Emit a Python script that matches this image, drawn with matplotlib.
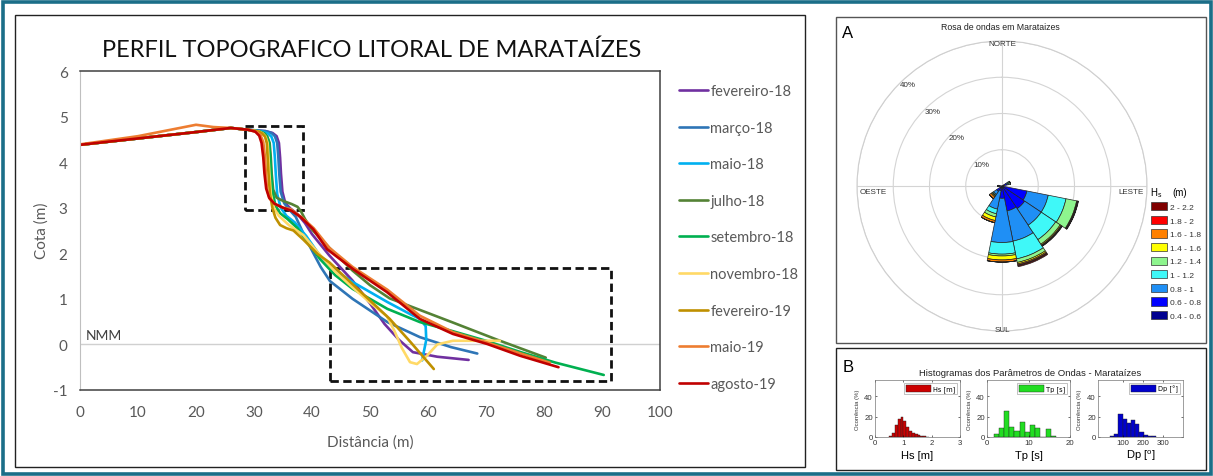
import numpy as np
import matplotlib.pyplot as plt
from matplotlib.patches import Rectangle, Patch

plt.rcParams["axes.unicode_minus"] = False

W, H = 1213, 477

# ---------------- profile data (Distância m, Cota m) ----------------
fev18_x = [0, 10, 20, 26, 29, 32, 33.2, 33.9, 34.3, 34.5, 34.65, 34.9, 35.4, 36.3, 37.5, 38.8, 40, 43, 47, 50, 52.5, 55, 57.4, 61.6, 67]
fev18_y = [4.38, 4.52, 4.66, 4.75, 4.71, 4.68, 4.64, 4.57, 4.42, 4.1, 3.75, 3.35, 3.1, 2.98, 2.86, 2.66, 2.42, 1.95, 1.4, 0.9, 0.45, 0.1, -0.17, -0.27, -0.34]

mar18_x = [0, 10, 20, 26, 29, 32, 33.0, 33.6, 34.0, 34.2, 34.35, 34.6, 35.2, 36, 37.2, 39, 41.5, 43.1, 47, 53, 58.6, 64, 68.5]
mar18_y = [4.38, 4.52, 4.66, 4.75, 4.71, 4.68, 4.64, 4.57, 4.42, 4.1, 3.75, 3.35, 3.1, 2.97, 2.8, 2.3, 1.7, 1.39, 1.0, 0.49, 0.16, -0.06, -0.2]

mai18_x = [0, 10, 20, 26, 29, 31.5, 32.4, 33.0, 33.4, 33.6, 33.75, 34.0, 34.6, 35.6, 37, 39, 41.4, 44, 47, 53, 57, 58.6, 59.6, 59.7, 59.3, 59.0]
mai18_y = [4.38, 4.52, 4.66, 4.75, 4.71, 4.67, 4.63, 4.56, 4.42, 4.1, 3.75, 3.3, 3.0, 2.82, 2.68, 2.38, 1.94, 1.62, 1.37, 0.93, 0.66, 0.56, 0.4, 0.1, -0.15, -0.35]

jul18_x = [0, 10, 20, 26, 29, 31, 31.8, 32.3, 32.7, 32.9, 33.05, 33.3, 33.9, 35, 36.5, 37.5, 38.1, 38.8, 40, 43, 47, 50, 53.4, 64.3, 72, 80.3]
jul18_y = [4.38, 4.52, 4.66, 4.75, 4.71, 4.67, 4.63, 4.56, 4.42, 4.1, 3.75, 3.4, 3.22, 3.15, 3.08, 3.02, 2.92, 2.75, 2.52, 2.12, 1.62, 1.3, 1.01, 0.48, 0.1, -0.29]

set18_x = [0, 10, 20, 26, 29, 31, 31.7, 32.2, 32.6, 32.8, 32.95, 33.2, 33.7, 34.5, 35.8, 37.5, 39.5, 41.4, 44, 47, 53, 58.6, 64.3, 70, 76, 82, 90.3]
set18_y = [4.38, 4.52, 4.66, 4.75, 4.71, 4.67, 4.63, 4.56, 4.42, 4.1, 3.75, 3.35, 3.05, 2.88, 2.75, 2.55, 2.2, 1.87, 1.52, 1.22, 0.78, 0.49, 0.29, 0.08, -0.17, -0.4, -0.67]

nov18_x = [0, 10, 20, 26, 29, 30.9, 31.5, 32.0, 32.35, 32.5, 32.65, 32.9, 33.4, 34.3, 36, 38.5, 41, 44, 47, 50, 52.9, 54.2, 55.5, 56.9, 58.1, 59.8, 61.6, 64.3, 72.4]
nov18_y = [4.38, 4.52, 4.66, 4.75, 4.71, 4.67, 4.63, 4.56, 4.42, 4.1, 3.75, 3.3, 3.0, 2.82, 2.62, 2.4, 2.02, 1.6, 1.25, 0.92, 0.62, 0.3, -0.08, -0.39, -0.43, -0.25, 0.0, 0.08, 0.08]

fev19_x = [0, 10, 20, 26, 29, 30.8, 31.4, 31.9, 32.2, 32.35, 32.5, 32.75, 33.2, 33.7, 34.5, 35.6, 36.8, 38.5, 41, 43, 47, 53.4, 57, 61]
fev19_y = [4.38, 4.52, 4.66, 4.75, 4.71, 4.67, 4.63, 4.56, 4.42, 4.1, 3.75, 3.3, 2.98, 2.78, 2.62, 2.55, 2.5, 2.3, 1.98, 1.8, 1.32, 0.56, 0.05, -0.54]

mai19_x = [0, 10, 18, 20, 23, 26, 29, 30.5, 31.1, 31.6, 31.9, 32.05, 32.25, 32.7, 33.6, 35, 36.3, 38.3, 40.3, 43, 47, 53, 58.6, 64.3, 70, 76, 81]
mai19_y = [4.39, 4.57, 4.77, 4.82, 4.77, 4.75, 4.71, 4.66, 4.6, 4.44, 4.1, 3.75, 3.4, 3.2, 3.08, 3.0, 2.97, 2.78, 2.55, 2.12, 1.7, 1.2, 0.63, 0.27, 0.05, -0.2, -0.4]

ago19_x = [0, 10, 20, 26, 29, 30.2, 30.9, 31.3, 31.6, 31.8, 32.1, 32.6, 33.5, 35, 36.5, 38, 40.2, 42.6, 47.1, 52.9, 58.6, 64.3, 70.2, 75.9, 82.5]
ago19_y = [4.38, 4.52, 4.66, 4.75, 4.71, 4.67, 4.58, 4.42, 4.1, 3.75, 3.42, 3.22, 3.09, 3.0, 2.93, 2.8, 2.53, 2.09, 1.65, 1.15, 0.56, 0.23, 0.01, -0.25, -0.5]

series_labels = ["fevereiro-18", "março-18", "maio-18", "julho-18", "setembro-18",
                 "novembro-18", "fevereiro-19", "maio-19", "agosto-19"]
series_colors = ["#7030a0", "#2e75b6", "#00b0f0", "#548235", "#00b050",
                 "#ffd966", "#bf9000", "#ed7d31", "#c00000"]
series_xy = [(fev18_x, fev18_y), (mar18_x, mar18_y), (mai18_x, mai18_y), (jul18_x, jul18_y),
             (set18_x, set18_y), (nov18_x, nov18_y), (fev19_x, fev19_y), (mai19_x, mai19_y),
             (ago19_x, ago19_y)]

# dashed highlight boxes (x0, y0, x1, y1)
box_escarpa = (28.5, 2.95, 38.4, 4.79)
box_praia = (43.1, -0.8, 91.6, 1.68)

# ---------------- wave rose data (% per Hs class and direction) ----------------
rose_dirs = [67.5, 112.5, 135, 157.5, 180, 202.5, 225, 270]
hs_classes = ["0.4 - 0.6", "0.6 - 0.8", "0.8 - 1", "1 - 1.2", "1.2 - 1.4",
              "1.4 - 1.6", "1.6 - 1.8", "1.8 - 2", "2 - 2.2"]
hs_colors = ["#00008f", "#0000ff", "#1f8ff5", "#3ff8f8", "#8ef58e",
             "#ffff00", "#ff8000", "#ff0000", "#800000"]
hs_04_06 = [0.6, 0.5, 0.5, 0.5, 0.4, 0.3, 0.5, 0.8]
hs_06_08 = [0.7, 6.5, 7.0, 6.5, 3.0, 1.0, 1.3, 0.3]
hs_08_10 = [0.4, 6.0, 5.5, 8.5, 12.2, 5.2, 1.0, 0.0]
hs_10_12 = [0.3, 5.0, 4.8, 5.0, 3.2, 1.3, 0.3, 0.0]
hs_12_14 = [0.4, 3.0, 1.5, 1.0, 0.5, 0.9, 0.2, 0.0]
hs_14_16 = [0.0, 0.2, 0.3, 0.4, 1.1, 1.0, 0.3, 0.0]
hs_16_18 = [0.0, 0.1, 0.2, 0.3, 0.6, 0.6, 0.6, 0.0]
hs_18_20 = [0.0, 0.1, 0.1, 0.2, 0.0, 0.0, 0.0, 0.0]
hs_20_22 = [0.0, 0.1, 0.1, 0.3, 0.0, 0.0, 0.0, 0.0]
rose_bins = [hs_04_06, hs_06_08, hs_08_10, hs_10_12, hs_12_14,
             hs_14_16, hs_16_18, hs_18_20, hs_20_22]
rose_rings = [10, 20, 30, 40]

# ---------------- histograms (Ocorrência %) ----------------
hs_edges = [0.5, 0.6, 0.7, 0.8, 0.9, 1.0, 1.1, 1.2, 1.3, 1.4, 1.5, 1.6, 1.7, 1.8, 1.9]
hs_occ = [1, 4, 12, 18, 20, 16, 10, 6, 4, 2.5, 1.5, 1, 0.5, 0.3]

tp_edges = [1.6, 2.85, 4.1, 5.35, 6.6, 7.85, 9.1, 10.35, 11.6, 12.85, 14.1, 15.35, 16.6]
tp_occ = [3, 9, 26, 10, 6, 15, 5, 12, 9, 0, 8, 1]

dp_edges = [35, 56, 77, 98, 119, 140, 161, 182, 203, 224, 245, 266]
dp_occ = [1, 3, 23, 18, 14, 17, 13, 5, 1.5, 1, 0.5]


def px_rect(x0, y0, x1, y1):
    return [x0 / W, 1 - y1 / H, (x1 - x0) / W, (y1 - y0) / H]


def fx(x):
    return x / W


def fy(y):
    return 1 - y / H


fig = plt.figure(figsize=(W / 100, H / 100), dpi=100)
fig.patch.set_facecolor("white")

# outer frame and panel frames
fig.add_artist(Rectangle((fx(2.5), fy(474.5)), (W - 5) / W, (H - 5) / H, transform=fig.transFigure,
                         fill=False, edgecolor="#1b6e88", lw=2.6))
fig.add_artist(Rectangle(px_rect(15, 16, 805, 468)[:2], 790 / W, 452 / H, transform=fig.transFigure,
                         fill=False, edgecolor="#222222", lw=1.0))
fig.add_artist(Rectangle(px_rect(836, 18, 1206, 344)[:2], 370 / W, 326 / H, transform=fig.transFigure,
                         fill=False, edgecolor="#555555", lw=1.0))
fig.add_artist(Rectangle(px_rect(836, 349, 1206, 471)[:2], 370 / W, 122 / H, transform=fig.transFigure,
                         fill=False, edgecolor="#222222", lw=1.0))

# ---------------- main profile chart ----------------
main_font = "Lato"
ax = fig.add_axes(px_rect(80, 72, 660, 391))
lines = []
for (xs, ys), lab, col in zip(series_xy, series_labels, series_colors):
    ln, = ax.plot(xs, ys, color=col, lw=1.9, label=lab, solid_joinstyle="round", solid_capstyle="round")
    lines.append(ln)

ax.axhline(0, color="#d0d0d0", lw=1.0, zorder=0)
for (x0, y0, x1, y1) in (box_escarpa, box_praia):
    ax.add_patch(Rectangle((x0, y0), x1 - x0, y1 - y0, fill=False, edgecolor="#111111",
                           lw=2.0, linestyle=(0, (3, 1.6))))
ax.text(1.0, 0.2, "NMM", fontsize=10, color="#404040", family=main_font, va="center")

ax.set_xlim(0, 100)
ax.set_ylim(-1, 6)
ax.set_xticks(range(0, 101, 10))
ax.set_yticks(range(-1, 7))
ax.tick_params(length=0, labelsize=11, labelcolor="#595959", pad=9)
ax.tick_params(axis="x", pad=11)
for lab in ax.get_xticklabels() + ax.get_yticklabels():
    lab.set_family(main_font)
for side in ("top", "bottom", "right"):
    ax.spines[side].set_color("#404040")
    ax.spines[side].set_linewidth(1.1)
ax.spines["left"].set_color("#bfbfbf")

fig.text(fx(372), fy(50), "PERFIL TOPOGRAFICO LITORAL DE MARATAÍZES", ha="center", va="center",
         fontsize=17, family=main_font, color="#111111")
fig.text(fx(370), fy(443), "Distância (m)", ha="center", va="center", fontsize=11,
         family=main_font, color="#595959")
fig.text(fx(42), fy(231), "Cota (m)", ha="center", va="center", rotation=90, fontsize=11,
         family=main_font, color="#595959")

leg = ax.legend(handles=lines, loc="upper left", bbox_to_anchor=(fx(679), fy(85)),
                bbox_transform=fig.transFigure, frameon=False, fontsize=10.5,
                handlelength=2.0, handletextpad=0.15, labelspacing=1.55, borderpad=0, borderaxespad=0)
for t in leg.get_texts():
    t.set_color("#595959")
    t.set_family(main_font)

# ---------------- panel A: wave rose ----------------
mfont = "Liberation Sans"
cx, cy, R = 1002, 187, 145
pax = fig.add_axes(px_rect(cx - R, cy - R, cx + R, cy + R), projection="polar")
pax.set_theta_zero_location("N")
pax.set_theta_direction(-1)
width = np.deg2rad(22.5)
theta = np.deg2rad(rose_dirs)
bottom = np.zeros(len(rose_dirs))
for vals, col in zip(rose_bins, hs_colors):
    vals = np.array(vals)
    pax.bar(theta, vals, width=width, bottom=bottom, color=col, edgecolor="#222222",
            linewidth=0.5, zorder=3)
    bottom += vals
pax.set_ylim(0, 40)
pax.set_yticks(rose_rings)
pax.set_yticklabels([])
pax.set_xticks(np.deg2rad([0, 90, 180, 270]))
pax.set_xticklabels([])
pax.grid(True, color="#d4d4d4", lw=0.8)
pax.spines["polar"].set_color("#cfcfcf")
pax.spines["polar"].set_linewidth(0.8)
for r in rose_rings:
    pax.text(np.deg2rad(317), r - 1.8, f"{r}%", fontsize=5.8, family=mfont, color="#333333",
             ha="center", va="center", zorder=4)

fig.text(fx(848), fy(34), "A", fontsize=12, family=mfont, va="center", ha="center")
fig.text(fx(1000), fy(28), "Rosa de ondas em Marataizes", fontsize=6.3, family=mfont,
         ha="center", va="center", color="#222222")
for txt, x, y in (("NORTE", 1002, 45), ("SUL", 1002, 331), ("OESTE", 873, 192), ("LESTE", 1131, 192)):
    fig.text(fx(x), fy(y), txt, fontsize=5.8, family=mfont, ha="center", va="center", color="#333333")

fig.text(fx(1150), fy(193), "H$_\\mathregular{s}$", fontsize=7, family=mfont, ha="left", va="center")
fig.text(fx(1172), fy(193), "(m)", fontsize=7, family=mfont, ha="left", va="center")
handles = [Patch(facecolor=c, edgecolor="#333333", lw=0.5) for c in hs_colors[::-1]]
rleg = fig.legend(handles, hs_classes[::-1], loc="upper left", bbox_to_anchor=(fx(1151), fy(203)),
                  frameon=False, fontsize=6, handlelength=1.9, handleheight=1.15,
                  handletextpad=0.4, labelspacing=0.56, borderpad=0, borderaxespad=0)
for t in rleg.get_texts():
    t.set_family(mfont)
    t.set_color("#333333")

# ---------------- panel B: histograms ----------------
fig.text(fx(848), fy(368), "B", fontsize=12, family=mfont, va="center", ha="center")
fig.text(fx(1030), fy(374), "Histogramas dos Parâmetros de Ondas - Marataízes", fontsize=6.8,
         family=mfont, ha="center", va="center", color="#222222")

hist_specs = [
    (hs_edges, hs_occ, "#cc0000", "Hs [m]", (875, 960), (0, 3), [0, 1, 2, 3], "Hs [m]"),
    (tp_edges, tp_occ, "#22dd22", "Tp [s]", (987, 1070), (0, 20), [0, 10, 20], "Tp [s]"),
    (dp_edges, dp_occ, "#0000cc", "Dp [°]", (1098, 1183), (-25, 400), [100, 200, 300], "Dp [$^\\mathregular{o}$]"),
]
for edges, occ, col, leglab, (xa, xb), xlim, xt, xlab in hist_specs:
    hax = fig.add_axes(px_rect(xa, 381, xb, 438))
    widths = np.diff(edges)
    hax.bar(edges[:-1], occ, width=widths, align="edge", color=col, edgecolor="#222222", lw=0.3)
    hax.set_xlim(*xlim)
    hax.set_ylim(0, 56)
    hax.set_xticks(xt)
    hax.set_yticks([0, 20, 40])
    hax.tick_params(direction="in", length=1.5, width=0.4, labelsize=5.6, pad=1.5,
                    labelcolor="#333333", top=True, right=True)
    for lab in hax.get_xticklabels() + hax.get_yticklabels():
        lab.set_family(mfont)
    for s in hax.spines.values():
        s.set_color("#777777")
        s.set_linewidth(0.5)
    hl = hax.legend(handles=[Patch(facecolor=col, edgecolor="#222222", lw=0.3)], labels=[leglab],
                    loc="upper right", fontsize=4.8, handlelength=3.8, handleheight=1.2,
                    borderpad=0.3, handletextpad=0.3, fancybox=False, borderaxespad=0.4)
    hl.get_frame().set_edgecolor("#777777")
    hl.get_frame().set_linewidth(0.4)
    fig.text(fx((xa + xb) / 2), fy(456), xlab, fontsize=8, family=mfont, ha="center", va="center")
    fig.text(fx(xa - 18), fy(410), "Ocorrência (%)", fontsize=4.3, family=mfont, rotation=90,
             ha="center", va="center", color="#333333")

fig.savefig("out.png", dpi=100)
